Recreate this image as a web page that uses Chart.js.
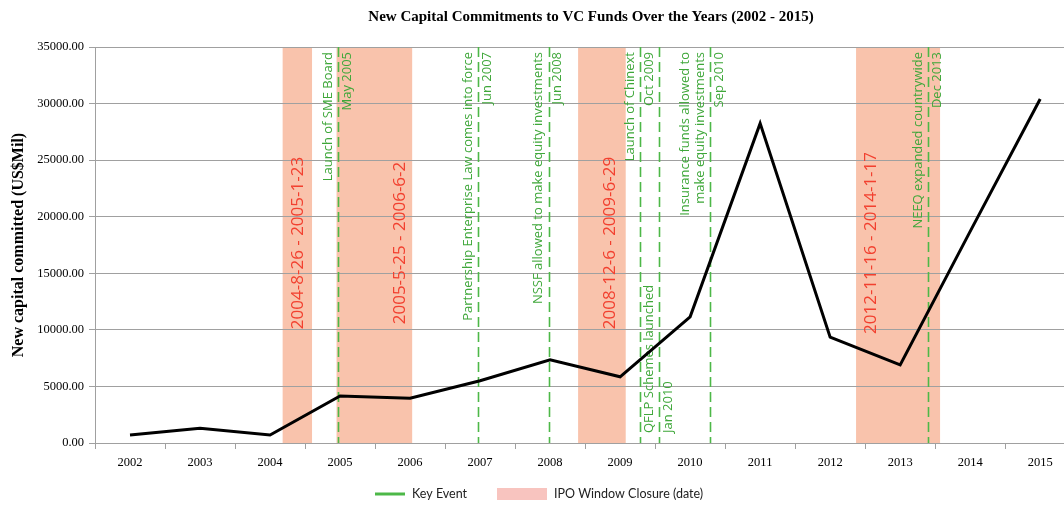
<!DOCTYPE html>
<html>
<head>
<meta charset="utf-8">
<script src="https://cdn.jsdelivr.net/npm/chart.js@4/dist/chart.umd.min.js"></script>
<style>
    html, body { margin: 0; padding: 0; background: #fff; }
    #wrap { width: 1064px; height: 508px; position: relative; }
</style>
</head>
<body>
<div id="wrap"><canvas id="chart"></canvas></div>
<script>
// ---- data ----
const years = [2002, 2003, 2004, 2005, 2006, 2007, 2008, 2009, 2010, 2011, 2012, 2013, 2014, 2015];
const capital = [700, 1300, 700, 4150, 3950, 5500, 7350, 5850, 11150, 28250, 9350, 6900, 18700, 30400];
const yTicks = [0, 5000, 10000, 15000, 20000, 25000, 30000, 35000];

// IPO window closures (as fractional year on the axis)
const ipoStart = [2004.68, 2005.45, 2008.9, 2012.87];
const ipoEnd = [2005.1, 2006.53, 2009.58, 2014.07];
const ipoText = ['2004-8-26 - 2005-1-23', '2005-5-25 - 2006-6-2', '2008-12-6 - 2009-6-29', '2012-11-16 - 2014-1-17'];
const ipoTextAt = [2004.9, 2006.36, 2009.36, 2013.08];

// key events
const eventAt = [2005.47, 2007.47, 2008.48, 2009.79, 2010.06, 2010.79, 2013.9];
const eventDate = ['May 2005', 'Jun 2007', 'Jun 2008', 'Oct 2009', 'Jan 2010', 'Sep 2010', 'Dec 2013'];
const eventName = [
    ['Launch of SME Board'],
    ['Partnership Enterprise Law comes into force'],
    ['NSSF allowed to make equity investments'],
    ['Launch of Chinext'],
    ['QFLP Schemes launched'],
    ['Insurance funds allowed to', 'make equity investments'],
    ['NEEQ expanded countrywide']
];
const eventAtBottom = [false, false, false, false, true, false, false];

const BAND = '#f9c3ac';
const GREEN = '#4db848';
const GREEN_TXT = '#3fa73a';
const RED_TXT = '#f2402f';
const GRID = '#a0a0a0';

// bands under the grid, events + labels over the grid, under the line
const overlays = {
    id: 'overlays',
    beforeDraw(chart) {
        const { ctx, chartArea: a, scales: { x } } = chart;
        ctx.save();
        ctx.fillStyle = BAND;
        ipoStart.forEach((s, i) => {
            const x0 = x.getPixelForValue(s), x1 = x.getPixelForValue(ipoEnd[i]);
            ctx.fillRect(x0, a.top, x1 - x0, a.bottom - a.top);
        });
        ctx.restore();
    },
    beforeDatasetsDraw(chart) {
        const { ctx, chartArea: a, scales: { x } } = chart;
        ctx.save();
        // red band labels
        ctx.fillStyle = RED_TXT;
        ctx.font = '17px "Open Sans"';
        ctx.textAlign = 'center';
        ctx.textBaseline = 'middle';
        ipoText.forEach((t, i) => {
            ctx.save();
            ctx.translate(x.getPixelForValue(ipoTextAt[i]), 243);
            ctx.rotate(-Math.PI / 2);
            ctx.fillText(t, 0, 0);
            ctx.restore();
        });
        // dashed green lines
        ctx.strokeStyle = GREEN;
        ctx.lineWidth = 1.6;
        ctx.setLineDash([10, 5]);
        eventAt.forEach(v => {
            const px = Math.round(x.getPixelForValue(v)) + 0.5;
            ctx.beginPath();
            ctx.moveTo(px, a.top);
            ctx.lineTo(px, a.bottom);
            ctx.stroke();
        });
        ctx.setLineDash([]);
        // green labels
        ctx.fillStyle = GREEN_TXT;
        ctx.font = '13px "Open Sans"';
        ctx.textBaseline = 'middle';
        eventAt.forEach((v, i) => {
            const px = x.getPixelForValue(v);
            const bottom = eventAtBottom[i];
            const ty = bottom ? a.bottom - 10 : a.top + 5;
            ctx.textAlign = bottom ? 'left' : 'right';
            const lines = eventName[i];
            lines.forEach((l, j) => {
                const cx = px - 10 - (lines.length - 1 - j) * 15;
                ctx.save();
                ctx.translate(cx, ty);
                ctx.rotate(-Math.PI / 2);
                ctx.fillText(l, 0, 0);
                ctx.restore();
            });
            ctx.save();
            ctx.translate(px + 9, ty);
            ctx.rotate(-Math.PI / 2);
            ctx.fillText(eventDate[i], 0, 0);
            ctx.restore();
        });
        ctx.restore();
    },
    afterDraw(chart) {
        const { ctx } = chart;
        ctx.save();
        // title
        ctx.fillStyle = '#000';
        ctx.font = 'bold 15px "Liberation Serif"';
        ctx.textAlign = 'center';
        ctx.textBaseline = 'middle';
        ctx.fillText('New Capital Commitments to VC Funds Over the Years (2002 - 2015)', 591, 17);
        // legend
        ctx.strokeStyle = GREEN;
        ctx.lineWidth = 3;
        ctx.beginPath();
        ctx.moveTo(375, 494);
        ctx.lineTo(405, 494);
        ctx.stroke();
        ctx.fillStyle = '#f8c4bf';
        ctx.fillRect(497, 488, 50, 12);
        ctx.fillStyle = '#222';
        ctx.font = '12.5px "Lato"';
        ctx.textAlign = 'left';
        ctx.fillText('Key Event', 412, 494);
        ctx.fillText('IPO Window Closure (date)', 554, 494);
        ctx.restore();
    }
};

new Chart(document.getElementById('chart'), {
    type: 'line',
    data: {
        datasets: [{
            label: 'New capital committed',
            data: years.map((y, i) => ({ x: y + 0.5, y: capital[i] })),
            borderColor: '#000',
            borderWidth: 3,
            pointRadius: 0,
            tension: 0,
            fill: false
        }]
    },
    options: {
        responsive: true,
        maintainAspectRatio: false,
        animation: false,
        layout: { padding: { top: 47, left: 0, right: 0, bottom: 33 } },
        plugins: { legend: { display: false }, title: { display: false }, tooltip: { enabled: false } },
        scales: {
            x: {
                type: 'linear',
                min: years[0],
                max: 2015.84,
                afterBuildTicks: s => {
                    const t = [];
                    years.forEach(y => { t.push({ value: y }); t.push({ value: y + 0.5 }); });
                    s.ticks = t;
                },
                afterFit: s => { s.height = 32; },
                ticks: {
                    autoSkip: false,
                    maxRotation: 0,
                    padding: 6,
                    color: '#000',
                    font: { family: 'Liberation Serif', size: 12.5 },
                    callback: v => (v % 1 ? String(Math.floor(v)) : '')
                },
                grid: {
                    drawOnChartArea: false,
                    tickLength: 6,
                    tickColor: c => (c.tick && c.tick.value % 1 === 0 ? GRID : 'rgba(0,0,0,0)')
                },
                border: { color: GRID }
            },
            y: {
                min: 0,
                max: 35000,
                afterBuildTicks: s => { s.ticks = yTicks.map(v => ({ value: v })); },
                afterFit: s => { s.width = 95; },
                ticks: {
                    padding: 5,
                    color: '#000',
                    font: { family: 'Liberation Serif', size: 12.5 },
                    callback: v => v.toFixed(2)
                },
                grid: { color: GRID, tickLength: 6 },
                border: { color: GRID },
                title: {
                    display: true,
                    text: 'New capital committed (US$Mil)',
                    color: '#000',
                    font: { family: 'Liberation Serif', size: 16, weight: 'bold' },
                    padding: { top: 9, bottom: 0 }
                }
            }
        }
    },
    plugins: [overlays]
});
</script>
</body>
</html>
